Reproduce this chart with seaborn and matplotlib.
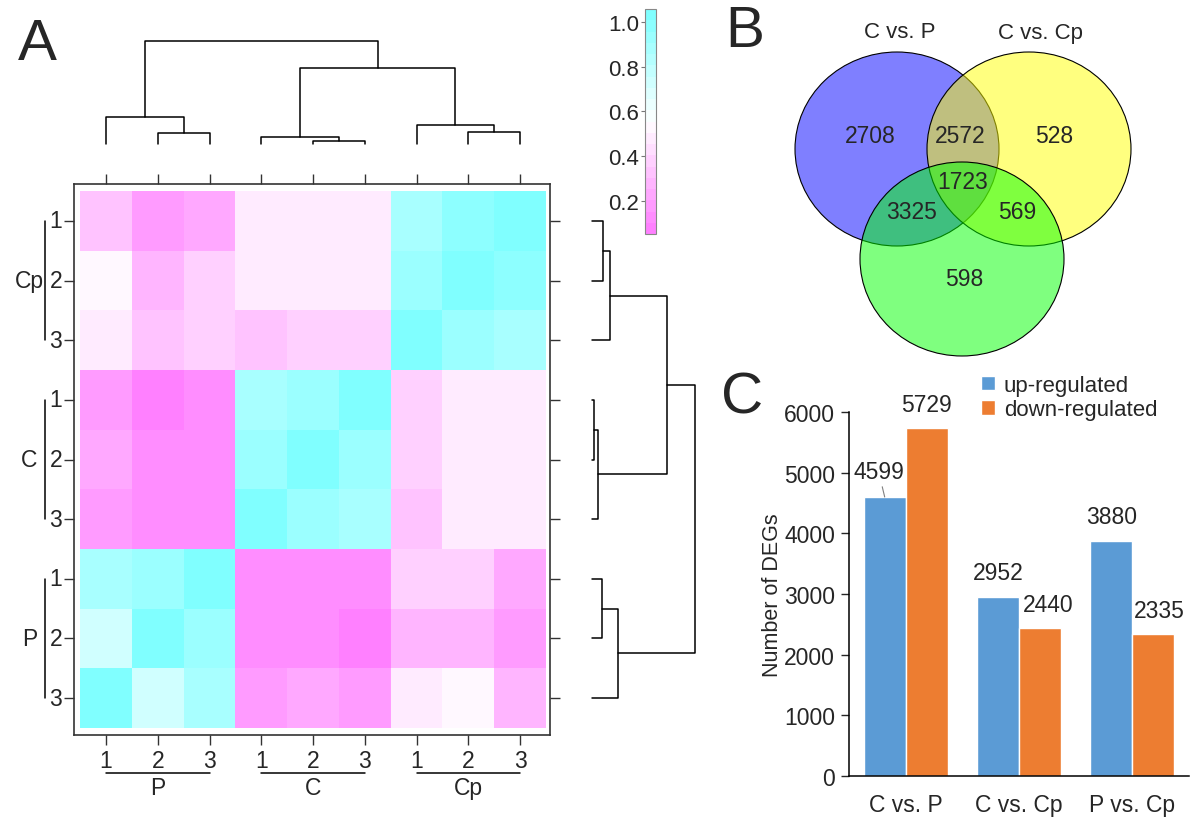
import numpy as np
import pandas as pd
import matplotlib
matplotlib.use("Agg")
import matplotlib.pyplot as plt
import seaborn as sns
from matplotlib.colors import LinearSegmentedColormap
from matplotlib.patches import Ellipse, Patch

# ---------------- data ----------------
# panel A: sample-to-sample similarity (rows top->bottom, cols left->right)
row_samples = ["Cp1", "Cp2", "Cp3", "C1", "C2", "C3", "P1", "P2", "P3"]
col_samples = ["P1", "P2", "P3", "C1", "C2", "C3", "Cp1", "Cp2", "Cp3"]
rep_labels = ["1", "2", "3"] * 3
row_groups = ["Cp", "C", "P"]
col_groups = ["P", "C", "Cp"]

sim_Cp1 = [0.32, 0.17, 0.24, 0.47, 0.47, 0.47, 0.88, 0.98, 1.03]
sim_Cp2 = [0.53, 0.27, 0.37, 0.47, 0.47, 0.47, 0.93, 1.03, 0.98]
sim_Cp3 = [0.47, 0.32, 0.37, 0.32, 0.37, 0.37, 1.03, 0.93, 0.88]
sim_C1 = [0.17, 0.07, 0.12, 0.88, 0.93, 1.03, 0.37, 0.47, 0.47]
sim_C2 = [0.24, 0.12, 0.12, 0.93, 1.03, 0.93, 0.37, 0.47, 0.47]
sim_C3 = [0.17, 0.12, 0.12, 1.03, 0.93, 0.88, 0.32, 0.47, 0.47]
sim_P1 = [0.88, 0.93, 1.03, 0.12, 0.12, 0.12, 0.37, 0.37, 0.24]
sim_P2 = [0.75, 1.03, 0.93, 0.12, 0.12, 0.07, 0.27, 0.27, 0.17]
sim_P3 = [1.03, 0.75, 0.88, 0.17, 0.24, 0.17, 0.47, 0.53, 0.27]

# dendrogram merges (child a, child b, height); leaves 0..8 in display order
col_links = [(4, 5, 3.3), (3, 9, 6.7), (1, 2, 11.0), (7, 8, 11.7),
             (6, 12, 19.0), (0, 11, 26.7), (10, 13, 75.7), (14, 15, 103.3)]
row_links = [(3, 4, 2.6), (9, 5, 6.6), (6, 7, 10.3), (0, 1, 11.0),
             (12, 2, 18.3), (11, 8, 26.6), (13, 10, 75.0), (15, 14, 103.3)]

# panel B: Venn counts
venn_sets = ["C vs. P", "C vs. Cp"]
venn_counts = {"P_only": 2708, "P_Cp": 2572, "Cp_only": 528, "all": 1723,
               "P_third": 3325, "Cp_third": 569, "third_only": 598}

# panel C: DEG counts
comparisons = ["C vs. P", "C vs. Cp", "P vs. Cp"]
up_counts = [4599, 2952, 3880]
down_counts = [5729, 2440, 2335]

# ---------------- style ----------------
sns.set_style("white")
plt.rcParams["font.family"] = ["Liberation Sans", "DejaVu Sans"]
W, H = 1200, 828


def px_box(l, t, r, b):
    return [l / W, 1 - b / H, (r - l) / W, (b - t) / H]


def draw_dendro(ax, links, n, side):
    pos = {i: i + 0.5 for i in range(n)}
    hgt = {i: 0.0 for i in range(n)}
    for k, (a, b, h) in enumerate(links):
        xs = [pos[a], pos[a], pos[b], pos[b]]
        ys = [hgt[a], h, h, hgt[b]]
        if side == "top":
            ax.plot(xs, ys, color="black", lw=1.1, clip_on=False)
        else:
            ax.plot(ys, xs, color="black", lw=1.1, clip_on=False)
        pos[n + k] = (pos[a] + pos[b]) / 2
        hgt[n + k] = h
    ax.axis("off")


fig = plt.figure(figsize=(12, 8.28), dpi=100)

# ---------------- panel A ----------------
sim = pd.DataFrame([sim_Cp1, sim_Cp2, sim_Cp3, sim_C1, sim_C2, sim_C3,
                    sim_P1, sim_P2, sim_P3], index=row_samples, columns=col_samples)
cmap = LinearSegmentedColormap.from_list("cm_rev", ["#FF80FF", "#FFFFFF", "#80FFFF"], N=20)

ax_hm = fig.add_axes(px_box(74, 185, 550, 736))
sns.heatmap(sim, cmap=cmap, vmin=0.05, vmax=1.06, cbar=False, ax=ax_hm)
ax_hm.set_xlim(-0.12, 9.08)
ax_hm.set_ylim(9.12, -0.12)
for sp in ax_hm.spines.values():
    sp.set_visible(True)
    sp.set_color("#333333")
    sp.set_linewidth(1.2)
ax_hm.set_xticks(np.arange(9) + 0.5)
ax_hm.set_xticklabels(rep_labels, rotation=0, fontsize=16.5)
ax_hm.set_yticks(np.arange(9) + 0.5)
ax_hm.set_yticklabels(rep_labels, rotation=0, fontsize=16.5)
ax_hm.set_xlabel("")
ax_hm.set_ylabel("")
ax_hm.tick_params(axis="both", direction="out", length=7, width=1, color="#333333",
                  top=True, right=True, bottom=True, left=True,
                  labeltop=False, labelright=False)
ax_hm.tick_params(axis="x", pad=3)
ax_hm.tick_params(axis="y", pad=1.5)

# group brackets
tx = ax_hm.get_xaxis_transform()
ty = ax_hm.get_yaxis_transform()
for g, grp in enumerate(col_groups):
    ax_hm.plot([3 * g + 0.5, 3 * g + 2.5], [-0.069, -0.069], transform=tx,
               color="black", lw=1.1, clip_on=False)
    ax_hm.text(3 * g + 1.5, -0.096, grp, transform=tx, ha="center", va="center", fontsize=16.5)
for g, grp in enumerate(row_groups):
    ax_hm.plot([-0.061, -0.061], [3 * g + 0.5, 3 * g + 2.5], transform=ty,
               color="black", lw=1.1, clip_on=False)
    ax_hm.text(-0.094, 3 * g + 1.5, grp, transform=ty, ha="center", va="center", fontsize=16.5)

# dendrograms
ax_top = fig.add_axes(px_box(74, 41.7, 550, 145))
ax_top.set_xlim(-0.12, 9.08)
ax_top.set_ylim(0, 103.3)
draw_dendro(ax_top, col_links, 9, "top")

ax_right = fig.add_axes(px_box(591.7, 185, 695, 736))
ax_right.set_ylim(9.12, -0.12)
ax_right.set_xlim(0, 103.3)
draw_dendro(ax_right, row_links, 9, "right")

# colour key
cax = fig.add_axes(px_box(645, 10, 656, 235))
cb = fig.colorbar(ax_hm.collections[0], cax=cax)
cb.set_ticks([0.2, 0.4, 0.6, 0.8, 1.0])
cb.set_ticklabels(["0.2", "0.4", "0.6", "0.8", "1.0"])
cax.yaxis.set_ticks_position("left")
cax.tick_params(labelsize=16, length=3, width=0.8, color="#777777", pad=1)
cb.outline.set_edgecolor("#888888")
cb.outline.set_linewidth(0.8)

# ---------------- panel B ----------------
ax_v = fig.add_axes(px_box(700, 0, 1200, 360))
ax_v.set_xlim(700, 1200)
ax_v.set_ylim(360, 0)
ax_v.axis("off")
circ_w, circ_h = 204, 194
for (cx, cy), col in zip([(897, 150), (1029, 150), (962, 260)], ["blue", "yellow", "lime"]):
    ax_v.add_patch(Ellipse((cx, cy), circ_w, circ_h, facecolor=col, alpha=0.5, edgecolor="none"))
    ax_v.add_patch(Ellipse((cx, cy), circ_w, circ_h, facecolor="none", edgecolor="black", lw=0.8))
ax_v.text(900, 33, venn_sets[0], ha="center", va="center", fontsize=16)
ax_v.text(1041, 33, venn_sets[1], ha="center", va="center", fontsize=16)
venn_pos = {"P_only": (870, 137), "P_Cp": (960, 137), "Cp_only": (1054, 137),
            "all": (963, 183), "P_third": (912, 213), "Cp_third": (1017, 213),
            "third_only": (964, 280)}
for key, val in venn_counts.items():
    ax_v.text(*venn_pos[key], str(val), ha="center", va="center", fontsize=16.5)

# ---------------- panel C ----------------
deg = pd.DataFrame({
    "comparison": comparisons * 2,
    "regulation": ["up-regulated"] * 3 + ["down-regulated"] * 3,
    "count": up_counts + down_counts,
})
ax_c = fig.add_axes(px_box(849, 413, 1189, 777))
sns.barplot(data=deg, x="comparison", y="count", hue="regulation",
            palette=["#5B9BD5", "#ED7D31"], width=0.74, saturation=1,
            legend=False, ax=ax_c)
ax_c.set_xlim(-0.5, 2.5)
ax_c.set_ylim(0, 6000)
ax_c.set_yticks(range(0, 6001, 1000))
ax_c.set_xlabel("")
ax_c.set_ylabel("Number of DEGs", fontsize=15.5, labelpad=1)
sns.despine(ax=ax_c)
for s in ["left", "bottom"]:
    ax_c.spines[s].set_color("black")
    ax_c.spines[s].set_linewidth(1.1)
ax_c.tick_params(axis="y", direction="out", length=6, width=1, labelsize=16.5, pad=4, left=True)
ax_c.tick_params(axis="x", length=0, labelsize=16.5, pad=12)

label_offsets = [(-6, 25), (0, 24), (0, 24), (0, 24), (8, 23), (6, 24)]
bars = ax_c.patches[:6]
values = up_counts + down_counts
for bar, val, off in zip(bars, values, label_offsets):
    x = bar.get_x() + bar.get_width() / 2
    arrow = dict(arrowstyle="-", color="gray", lw=0.8, shrinkA=0, shrinkB=0) if off[0] < -3 else None
    ax_c.annotate(str(val), (x, bar.get_height()), xytext=off, textcoords="offset pixels",
                  ha="center", va="center", fontsize=16.5, arrowprops=arrow)

handles = [Patch(facecolor="#5B9BD5", label="up-regulated"),
           Patch(facecolor="#ED7D31", label="down-regulated")]
fig.legend(handles=handles, loc="upper left", bbox_to_anchor=(981 / W, 1 - 376 / H),
           frameon=False, fontsize=16, handlelength=0.62, handleheight=0.62,
           handletextpad=0.4, labelspacing=0.15, borderpad=0, borderaxespad=0)

# panel letters
fig.text(37 / W, 1 - 45 / H, "A", fontsize=42, ha="center", va="center")
fig.text(745 / W, 1 - 32 / H, "B", fontsize=42, ha="center", va="center")
fig.text(742 / W, 1 - 399 / H, "C", fontsize=42, ha="center", va="center")

fig.savefig("out.png", dpi=100)
